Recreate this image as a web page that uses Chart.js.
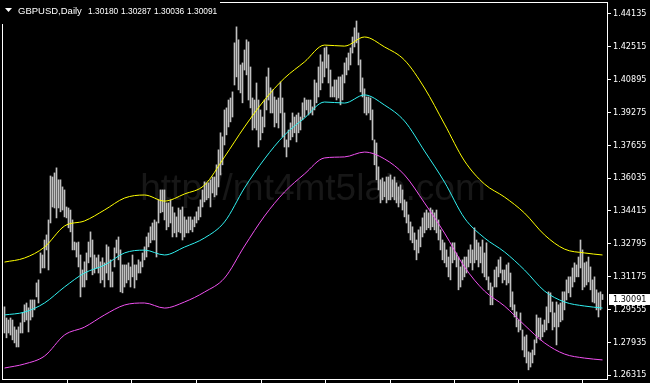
<!DOCTYPE html>
<html>
<head>
<meta charset="utf-8">
<script src="https://cdn.jsdelivr.net/npm/chart.js@4.4.1/dist/chart.umd.min.js"></script>
<style>
  html, body { margin: 0; padding: 0; background: #000; }
  #chart { display: block; }
</style>
</head>
<body>
<canvas id="chart" width="650" height="383"></canvas>
<script>
// ------------------------------------------------------------
// Data (one entry per bar)
// ------------------------------------------------------------

const symbolTitle = "GBPUSD,Daily";
const lastQuote = [1.30180, 1.30287, 1.30036, 1.30091]; // open high low close

const barHigh = [
  1.2968,1.2913,1.2903,1.2913,1.2903,1.2869,1.2854,1.2869,1.2889,1.2938,
  1.2978,1.2987,1.2963,1.3002,1.3002,1.3002,1.3086,1.3101,1.3234,1.3224,
  1.3298,1.3323,1.3397,1.3614,1.3609,1.3629,1.3654,1.3595,1.3595,1.3560,
  1.3545,1.3461,1.3456,1.3446,1.3397,1.3288,1.3284,1.3288,1.3224,1.3150,
  1.3190,1.3234,1.3288,1.3338,1.3298,1.3224,1.3210,1.3224,1.3190,1.3210,
  1.3185,1.3274,1.3264,1.3200,1.3140,1.3259,1.3298,1.3313,1.3249,1.3175,
  1.3175,1.3175,1.3185,1.3165,1.3224,1.3175,1.3175,1.3200,1.3190,1.3234,
  1.3264,1.3313,1.3333,1.3363,1.3382,1.3397,1.3387,1.3496,1.3545,1.3545,
  1.3545,1.3481,1.3481,1.3496,1.3461,1.3432,1.3412,1.3456,1.3446,1.3461,
  1.3412,1.3397,1.3412,1.3412,1.3397,1.3412,1.3437,1.3461,1.3496,1.3545,
  1.3585,1.3580,1.3580,1.3595,1.3609,1.3609,1.3669,1.3743,1.3827,1.3807,
  1.3940,1.3950,1.3989,1.3999,1.4029,1.4271,1.4350,1.4286,1.4162,1.4172,
  1.4236,1.4286,1.4276,1.4152,1.3999,1.3989,1.4073,1.3989,1.3940,1.3905,
  1.3989,1.4103,1.4147,1.4049,1.4039,1.4004,1.3989,1.3999,1.4078,1.3999,
  1.3925,1.3792,1.3841,1.3876,1.3925,1.3905,1.3915,1.3925,1.3905,1.3975,
  1.3999,1.3989,1.3989,1.3989,1.3955,1.4088,1.4073,1.4152,1.4212,1.4177,
  1.4246,1.4251,1.4212,1.4137,1.4054,1.4088,1.4088,1.4103,1.4103,1.4113,
  1.4172,1.4197,1.4221,1.4246,1.4300,1.4345,1.4379,1.4320,1.4187,1.4098,
  1.4044,1.4004,1.4004,1.3999,1.3940,1.3792,1.3777,1.3659,1.3595,1.3604,
  1.3585,1.3609,1.3609,1.3619,1.3595,1.3609,1.3580,1.3560,1.3570,1.3545,
  1.3496,1.3486,1.3422,1.3387,1.3363,1.3333,1.3298,1.3348,1.3363,1.3407,
  1.3432,1.3446,1.3432,1.3456,1.3446,1.3432,1.3446,1.3397,1.3348,1.3298,
  1.3284,1.3249,1.3214,1.3264,1.3284,1.3284,1.3234,1.3214,1.3165,1.3200,
  1.3214,1.3214,1.3249,1.3274,1.3249,1.3358,1.3298,1.3284,1.3264,1.3298,
  1.3234,1.3284,1.3116,1.3086,1.3066,1.3150,1.3165,1.3200,1.3214,1.3150,
  1.3150,1.3175,1.3185,1.3135,1.3042,1.2978,1.2943,1.2903,1.2938,1.2854,
  1.2820,1.2829,1.2746,1.2741,1.2755,1.2805,1.2928,1.2913,1.2913,1.2879,
  1.2903,1.2968,1.3042,1.3037,1.2992,1.2938,1.2992,1.2978,1.2987,1.3042,
  1.3042,1.3101,1.3116,1.3116,1.3160,1.3185,1.3175,1.3214,1.3298,1.3249,
  1.3185,1.3190,1.3214,1.3165,1.3101,1.3116,1.3052,1.3037,1.3042,1.3029
];

const barLow = [
  1.2839,1.2815,1.2839,1.2829,1.2805,1.2790,1.2770,1.2770,1.2839,1.2839,
  1.2894,1.2903,1.2844,1.2903,1.2918,1.2953,1.3017,1.2987,1.3135,1.3160,
  1.3160,1.3249,1.3150,1.3382,1.3461,1.3456,1.3407,1.3456,1.3437,1.3446,
  1.3412,1.3407,1.3358,1.3338,1.3249,1.3249,1.3214,1.3165,1.3017,1.3066,
  1.3066,1.3101,1.3185,1.3214,1.3126,1.3135,1.3160,1.3135,1.3086,1.3101,
  1.3066,1.3135,1.3101,1.3066,1.3066,1.3165,1.3234,1.3200,1.3042,1.3037,
  1.3066,1.3086,1.3101,1.3066,1.3116,1.3061,1.3101,1.3135,1.3135,1.3165,
  1.3200,1.3214,1.3264,1.3284,1.3298,1.3298,1.3214,1.3382,1.3432,1.3437,
  1.3397,1.3348,1.3363,1.3382,1.3313,1.3333,1.3313,1.3338,1.3333,1.3298,
  1.3313,1.3333,1.3333,1.3348,1.3338,1.3363,1.3382,1.3397,1.3412,1.3461,
  1.3486,1.3496,1.3506,1.3461,1.3530,1.3511,1.3520,1.3560,1.3619,1.3669,
  1.3767,1.3817,1.3856,1.3881,1.3905,1.4063,1.4103,1.4039,1.4024,1.3975,
  1.4137,1.4113,1.3989,1.3950,1.3841,1.3851,1.3841,1.3757,1.3792,1.3827,
  1.3856,1.3940,1.3989,1.3925,1.3925,1.3856,1.3876,1.3851,1.3925,1.3807,
  1.3757,1.3708,1.3757,1.3792,1.3807,1.3827,1.3782,1.3827,1.3841,1.3891,
  1.3905,1.3940,1.3915,1.3925,1.3915,1.3940,1.3975,1.4004,1.4039,1.4073,
  1.4103,1.4147,1.4073,1.4004,1.4004,1.4004,1.3989,1.3999,1.3965,1.3989,
  1.4073,1.4113,1.4137,1.4162,1.4221,1.4251,1.4271,1.4162,1.4029,1.4004,
  1.3925,1.3915,1.3925,1.3891,1.3792,1.3669,1.3595,1.3545,1.3481,1.3496,
  1.3511,1.3481,1.3496,1.3496,1.3511,1.3496,1.3481,1.3461,1.3481,1.3446,
  1.3412,1.3382,1.3333,1.3298,1.3284,1.3249,1.3200,1.3234,1.3264,1.3313,
  1.3333,1.3348,1.3358,1.3348,1.3363,1.3348,1.3333,1.3298,1.3249,1.3200,
  1.3185,1.3165,1.3116,1.3101,1.3185,1.3200,1.3165,1.3052,1.3066,1.3101,
  1.3116,1.3135,1.3165,1.3185,1.3150,1.3185,1.3200,1.3165,1.3185,1.3135,
  1.3116,1.3101,1.3052,1.2978,1.2978,1.3066,1.3066,1.3116,1.3135,1.3086,
  1.3101,1.3076,1.3086,1.2968,1.2953,1.2918,1.2869,1.2844,1.2854,1.2755,
  1.2721,1.2691,1.2657,1.2671,1.2691,1.2731,1.2790,1.2820,1.2805,1.2820,
  1.2844,1.2854,1.2889,1.2943,1.2854,1.2869,1.2780,1.2869,1.2894,1.2903,
  1.2953,1.3002,1.3037,1.3017,1.3066,1.3091,1.3116,1.3116,1.3160,1.3052,
  1.3066,1.3076,1.3091,1.3052,1.2992,1.2987,1.2953,1.2918,1.2953,1.3004
];

// indicator lines, read every 10 bars
const lineBars = [0,10,20,30,40,50,60,70,80,90,100,110,120,130,140,150,
                  160,170,180,190,200,210,220,230,240,250,260,270,280,290,299];

const upperBand = [1.3189,1.3209,1.3263,1.3367,1.3392,1.3446,1.3505,1.3520,1.3490,1.3525,
                   1.3569,1.3708,1.3856,1.3989,1.4097,1.4177,1.4260,1.4255,1.4300,1.4251,
                   1.4186,1.4048,1.3870,1.3688,1.3574,1.3510,1.3431,1.3323,1.3253,1.3234,1.3224];

const middleLine = [1.2928,1.2942,1.2987,1.3066,1.3135,1.3174,1.3234,1.3248,1.3224,1.3263,
                    1.3308,1.3387,1.3555,1.3698,1.3816,1.3900,1.3979,1.3974,1.4014,1.3964,
                    1.3885,1.3737,1.3584,1.3406,1.3308,1.3239,1.3150,1.3046,1.2992,1.2972,1.2962];

const lowerBand = [1.2666,1.2686,1.2725,1.2829,1.2868,1.2928,1.2977,1.2987,1.2962,1.2992,
                   1.3041,1.3110,1.3268,1.3416,1.3535,1.3624,1.3703,1.3708,1.3732,1.3698,
                   1.3619,1.3481,1.3332,1.3165,1.3046,1.2972,1.2878,1.2790,1.2735,1.2715,1.2706];

// price scale labels
const yTickValues = [1.26315,1.27935,1.29555,1.31175,1.32795,1.34415,
                     1.36035,1.37655,1.39275,1.40895,1.42515,1.44135];

// time scale tick marks (bar positions, no labels visible)
const xTickBars = [31.3, 63.5, 95.8, 128.3, 160.3, 192.8, 224.8, 256.8, 288.8];

// ------------------------------------------------------------
// Style
// ------------------------------------------------------------

const AXIS_FONT = { family: "'DejaVu Sans Condensed', 'Liberation Sans', sans-serif", size: 9 };
const COLORS = {
    bars: "#c0c0c0",
    upper: "#ffff00",
    middle: "#30f0f0",
    lower: "#f050f0",
    frame: "#ffffff",
    watermark: "#171717"
};

// ------------------------------------------------------------
// Plugins : watermark, frame, header, last price box
// ------------------------------------------------------------

const watermarkPlugin = {
    id: "watermark",
    beforeDatasetsDraw(chart) {
        const ctx = chart.ctx;
        ctx.save();
        ctx.fillStyle = COLORS.watermark;
        ctx.font = "37px 'Liberation Sans', Arial, sans-serif";
        ctx.textAlign = "center";
        ctx.textBaseline = "alphabetic";
        ctx.fillText("http://mt4mt5lab.com", 313, 200);
        ctx.restore();
    }
};

const terminalPlugin = {
    id: "terminal",
    afterDraw(chart) {
        const ctx = chart.ctx;
        const area = chart.chartArea;
        ctx.save();

        // left + top frame lines
        ctx.fillStyle = COLORS.frame;
        ctx.fillRect(area.left, area.top, 1, area.bottom - area.top);
        ctx.fillRect(area.left, area.top, area.right - area.left, 1);

        // header label with its own black background
        ctx.fillStyle = "#000";
        ctx.fillRect(0, 0, 220, 24);
        ctx.fillStyle = "#fff";
        ctx.beginPath();
        ctx.moveTo(5, 8);
        ctx.lineTo(12, 8);
        ctx.lineTo(8.5, 12);
        ctx.closePath();
        ctx.fill();
        ctx.textBaseline = "alphabetic";
        ctx.font = "9.5px 'Liberation Sans', sans-serif";
        ctx.fillText(symbolTitle, 18, 14);
        ctx.font = "8.4px 'Liberation Sans', sans-serif";
        lastQuote.forEach((v, k) => ctx.fillText(v.toFixed(5), 88 + k * 33, 14));

        // current price box on the price scale
        const y = chart.scales.y.getPixelForValue(lastQuote[3]);
        ctx.fillStyle = "#fff";
        ctx.fillRect(area.right + 2, Math.round(y) - 5, 650 - area.right - 2, 11);
        ctx.fillStyle = "#000";
        ctx.font = "9px " + AXIS_FONT.family;
        ctx.textBaseline = "middle";
        ctx.fillText(lastQuote[3].toFixed(5), area.right + 6, Math.round(y) + 0.5);

        ctx.restore();
    }
};

// ------------------------------------------------------------
// Chart
// ------------------------------------------------------------

const bars = barHigh.map((h, i) => ({ x: i, y: [barLow[i], h] }));
const toLine = arr => lineBars.map((b, k) => ({ x: b, y: arr[k] }));

const lineStyle = {
    type: "line",
    borderWidth: 1,
    pointRadius: 0,
    fill: false,
    cubicInterpolationMode: "monotone",
    order: 0
};

new Chart(document.getElementById("chart"), {
    data: {
        datasets: [
            { ...lineStyle, label: "upper", data: toLine(upperBand), borderColor: COLORS.upper },
            { ...lineStyle, label: "middle", data: toLine(middleLine), borderColor: COLORS.middle },
            { ...lineStyle, label: "lower", data: toLine(lowerBand), borderColor: COLORS.lower },
            {
                type: "bar",
                label: "bars",
                data: bars,
                backgroundColor: COLORS.bars,
                borderWidth: 0,
                barThickness: 1,
                order: 1
            }
        ]
    },
    options: {
        responsive: false,
        devicePixelRatio: 1,
        animation: false,
        events: [],
        layout: { padding: { left: 2, top: 2, right: 0, bottom: 0 } },
        plugins: {
            legend: { display: false },
            tooltip: { enabled: false }
        },
        scales: {
            x: {
                type: "linear",
                offset: false,
                min: -1.25,
                max: 301.25,
                afterBuildTicks: s => { s.ticks = xTickBars.map(v => ({ value: v })); },
                ticks: { display: false },
                grid: { offset: false, drawOnChartArea: false, drawTicks: true, tickLength: 4, color: "#fff", tickColor: "#fff" },
                border: { display: true, color: "#fff" }
            },
            y: {
                position: "right",
                min: 1.26118,
                max: 1.44727,
                afterBuildTicks: s => { s.ticks = yTickValues.map(v => ({ value: v })); },
                afterFit: s => { s.width = 43; s.paddingTop = 0; s.paddingBottom = 0; },
                ticks: {
                    color: "#fff",
                    font: AXIS_FONT,
                    padding: 2,
                    callback: v => Number(v).toFixed(5)
                },
                grid: { drawOnChartArea: false, drawTicks: true, tickLength: 4, color: "#fff", tickColor: "#fff" },
                border: { display: true, color: "#fff" }
            }
        }
    },
    plugins: [watermarkPlugin, terminalPlugin]
});
</script>
</body>
</html>
